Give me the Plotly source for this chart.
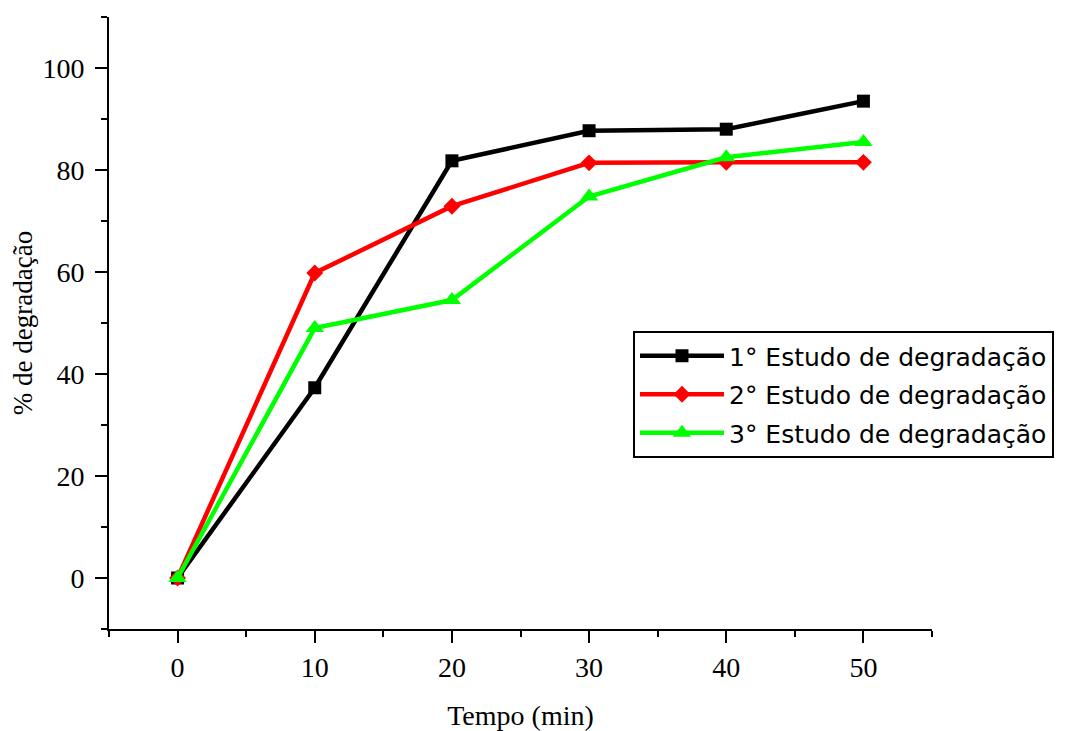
import plotly.graph_objects as go

tempo = [0, 10, 20, 30, 40, 50]
estudo1 = [0, 37.3, 81.8, 87.7, 88.0, 93.5]
estudo2 = [0, 59.8, 72.9, 81.4, 81.5, 81.5]
estudo3 = [0, 49.0, 54.5, 74.8, 82.5, 85.5]
nomes = ["1° Estudo de degradação", "2° Estudo de degradação", "3° Estudo de degradação"]
cores = ["#000000", "#ff0000", "#00ff00"]
simbolos = ["square", "diamond", "triangle-up"]
tamanhos = [13, 13, 16]

fig = go.Figure()
for i, (ys, nome, cor, sim, tam) in enumerate(zip([estudo1, estudo2, estudo3], nomes, cores, simbolos, tamanhos)):
    fig.add_trace(go.Scatter(
        x=tempo, y=ys, name=nome, mode="lines+markers", legendgroup=f"g{i}",
        line=dict(color=cor, width=4.5),
        marker=dict(symbol=sim, size=tam, color=cor),
    ))

axis_common = dict(
    showgrid=False, zeroline=False, showline=True, linecolor="black", linewidth=2,
    ticks="outside", ticklen=12, tickwidth=2, tickcolor="black", automargin=False,
    tickfont=dict(family="Liberation Serif", size=28, color="black"),
)

# page has an 8px body margin; figure sized to fit the 1068x731 window
L, T, R, B = 101, 9, 924, 621
W, H = 1060, 723

fig.update_layout(
    width=W, height=H,
    margin=dict(l=L, r=W - R, t=T, b=H - B),
    paper_bgcolor="white", plot_bgcolor="white",
    xaxis=dict(range=[-5, 55], tick0=0, dtick=10,
               minor=dict(dtick=5, tick0=0, ticks="outside", ticklen=6, tickwidth=2, tickcolor="black"),
               title=dict(text="Tempo (min)", font=dict(family="Liberation Serif", size=28, color="black"), standoff=24),
               ticklabelstandoff=0,
               **axis_common),
    yaxis=dict(range=[-10, 110], tick0=0, dtick=20,
               minor=dict(dtick=10, tick0=0, ticks="outside", ticklen=6, tickwidth=2, tickcolor="black"),
               title=dict(text="% de degradação", font=dict(family="Liberation Serif", size=27, color="black"), standoff=8),
               ticklabelstandoff=5,
               **axis_common),
    legend=dict(
        x=(625 - L) / (R - L), y=1 - (323 - T) / (B - T),
        xanchor="left", yanchor="top",
        bgcolor="white", bordercolor="black", borderwidth=2,
        font=dict(family="DejaVu Sans", size=25, color="black"),
        itemwidth=84, tracegroupgap=3,
    ),
    showlegend=True,
)

fig.write_html("out.html")
